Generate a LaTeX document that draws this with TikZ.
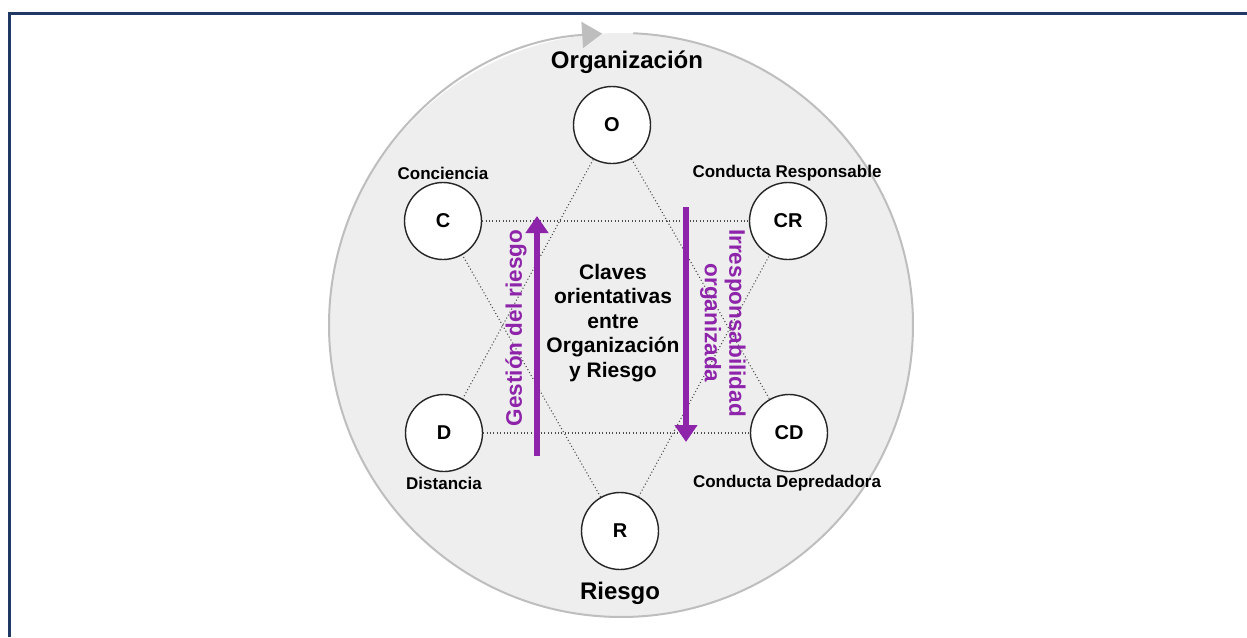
\documentclass[tikz,border=0pt]{standalone}
\usepackage{fontspec}
\setmainfont{Liberation Sans}
\usetikzlibrary{arrows.meta}
\definecolor{navy}{RGB}{31,56,100}
\definecolor{purp}{RGB}{142,36,170}
\definecolor{ringfill}{RGB}{238,238,238}
\definecolor{ringline}{RGB}{190,190,190}
\begin{document}
\begin{tikzpicture}[x=1pt,y=-1pt,
  keynode/.style={circle,draw=black!85,fill=white,line width=1.4pt,minimum size=77pt,inner sep=0pt,font=\bfseries\fontsize{20}{22}\selectfont},
  lbl/.style={font=\bfseries\fontsize{17}{19}\selectfont,inner sep=0pt},
  titletext/.style={font=\bfseries\fontsize{24}{26}\selectfont,inner sep=0pt},
  dotline/.style={draw=black!70,line width=1.1pt,dash pattern=on 1pt off 2.4pt},
  parrow/.style={draw=purp,line width=6pt,-{Triangle[length=17pt,width=22pt]}},
  ptext/.style={text=purp,font=\bfseries\fontsize{22.5}{24.5}\selectfont,align=center,inner sep=0pt},
  ctext/.style={font=\bfseries\fontsize{21}{24.5}\selectfont,align=center,inner sep=0pt},
]
\useasboundingbox (0,0) rectangle (1247,637);
\fill[white] (0,0) rectangle (1247,637);
\draw[navy,line width=3pt] (9,637) -- (9,13) -- (1247,13);
% ring
\coordinate (ctr) at (621,325);
\fill[ringfill] (ctr) circle[radius=292];
\draw[ringline,line width=2pt,-{Triangle[length=20pt,width=26pt]}] (ctr) ++(-87.6:292) arc[start angle=-87.6,end angle=266.3,radius=292];
% key nodes
\node[keynode] (O)  at (612,125) {O};
\node[keynode] (C)  at (443,221) {C};
\node[keynode] (CR) at (788,221) {CR};
\node[keynode] (D)  at (444,433) {D};
\node[keynode] (CD) at (789,433) {CD};
\node[keynode] (R)  at (620,531) {R};
% dotted star
\draw[dotline] (O) -- (D);
\draw[dotline] (O) -- (CD);
\draw[dotline] (D) -- (CD);
\draw[dotline] (R) -- (C);
\draw[dotline] (R) -- (CR);
\draw[dotline] (C) -- (CR);
% labels
\node[titletext] (torg) at (627,62) {Organización};
\node[titletext] (trie) at (620,593) {Riesgo};
\node[lbl] (lc)  at (443,173) {Conciencia};
\node[lbl] (lcr) at (787,173) {Conducta Responsable};
\node[lbl] (ld)  at (444,483) {Distancia};
\node[lbl] (lcd) at (787,483) {Conducta Depredadora};
% purple arrows
\coordinate (ga1) at (537,456);
\coordinate (ga2) at (537,216);
\coordinate (io1) at (686,207);
\coordinate (io2) at (686,442);
\draw[parrow] (ga1) -- (ga2);
\draw[parrow] (io1) -- (io2);
\node[ptext,rotate=90] (gest) at (516,328) {Gestión del riesgo};
\node[ptext,rotate=-90] (irr) at (723,323) {Irresponsabilidad\\organizada};
% center text
\node[ctext] (claves) at (613,323) {Claves\\orientativas\\entre\\Organización\\y Riesgo};
\end{tikzpicture}
\end{document}
